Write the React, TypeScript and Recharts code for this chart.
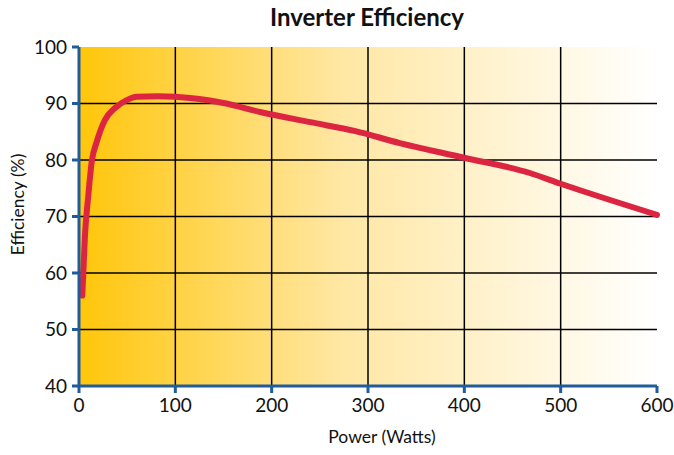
import { LineChart, Line, XAxis, YAxis, CartesianGrid } from "recharts";

const powerWatts = [3.4, 6.2, 9.7, 13.2, 18.4, 27, 37.4, 49.5, 60, 82, 100, 125, 150, 188, 240, 287, 333, 400, 468, 500, 600];
const efficiency = [56, 66.7, 73.8, 79.7, 83.2, 87.1, 89.2, 90.6, 91.2, 91.3, 91.2, 90.8, 90.1, 88.5, 86.7, 85.1, 83, 80.4, 77.7, 75.8, 70.3];
const xTicks = [0, 100, 200, 300, 400, 500, 600];
const yTicks = [40, 50, 60, 70, 80, 90, 100];

const data = powerWatts.map((p, i) => ({ power: p, eff: efficiency[i] }));

const axisBlue = "#1f5c9b";
const font = "Lato, 'Open Sans', sans-serif";

export default function App() {
  return (
    <div style={{ position: "fixed", top: 0, left: 0, width: 674, height: 455, background: "#fff", fontFamily: font }}>
      <div
        style={{
          position: "absolute",
          top: 2,
          left: 0,
          width: 734,
          textAlign: "center",
          fontSize: 24,
          fontWeight: 700,
          color: "#111",
        }}
      >
        Inverter Efficiency
      </div>
      <LineChart width={674} height={455} data={data} margin={{ top: 47, right: 17, left: 0, bottom: 20 }}>
        <defs>
          <linearGradient id="bg" x1="0" y1="0" x2="1" y2="0">
            <stop offset="0%" stopColor="#ffc60a" />
            <stop offset="45%" stopColor="#ffe7a3" />
            <stop offset="100%" stopColor="#ffffff" />
          </linearGradient>
        </defs>
        <CartesianGrid
          fill="url(#bg)"
          fillOpacity={1}
          stroke="#000"
          strokeWidth={1.5}
          horizontalValues={[50, 60, 70, 80, 90]}
          verticalValues={[100, 200, 300, 400, 500]}
        />
        <XAxis
          dataKey="power"
          type="number"
          domain={[0, 600]}
          ticks={xTicks}
          height={49}
          stroke={axisBlue}
          strokeWidth={3}
          tickSize={7}
          tickMargin={6}
          tick={{ fill: "#111", fontSize: 19, fontFamily: font }}
          label={{ value: "Power (Watts)", position: "insideBottom", offset: -8, dx: 14, fill: "#111", fontSize: 17.5, fontFamily: font }}
        />
        <YAxis
          type="number"
          domain={[40, 100]}
          ticks={yTicks}
          width={79}
          stroke={axisBlue}
          strokeWidth={3}
          tickSize={7}
          tickMargin={5}
          tick={{ fill: "#111", fontSize: 19, fontFamily: font }}
          label={{ value: "Efficiency (%)", angle: -90, position: "center", dx: -22, dy: -12, fill: "#111", fontSize: 17.5, fontFamily: font }}
        />
        <Line
          dataKey="eff"
          type="monotone"
          stroke="#dc2641"
          strokeWidth={6}
          strokeLinecap="round"
          strokeLinejoin="round"
          dot={false}
          isAnimationActive={false}
        />
      </LineChart>
    </div>
  );
}
